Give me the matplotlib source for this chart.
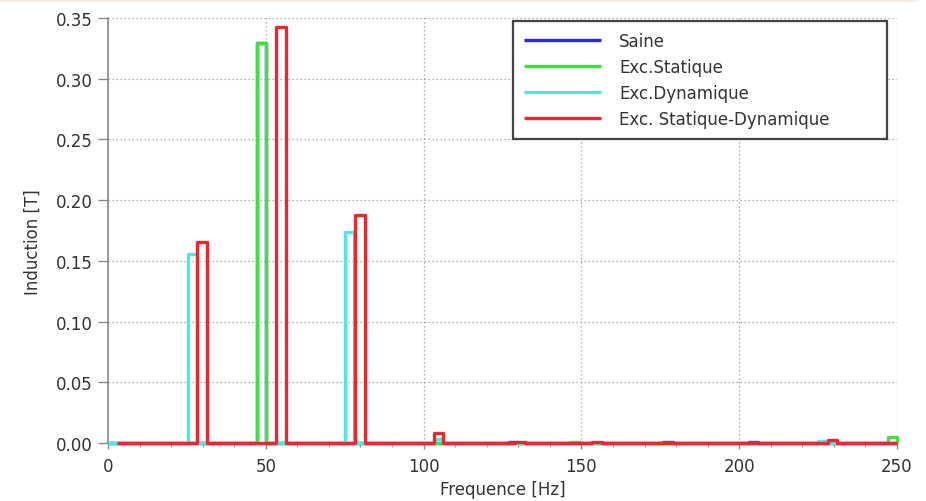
import matplotlib
matplotlib.use("Agg")
import matplotlib.pyplot as plt
from matplotlib.lines import Line2D
import numpy as np

plt.rcParams['font.family'] = ['DejaVu Sans']

# ---- data (frequency in Hz of each spectral line, amplitude in T) ----
series_names = ["Saine", "Exc.Statique", "Exc.Dynamique", "Exc. Statique-Dynamique"]

saine_freq = [48.7, 128.5, 177.5, 204.5]
saine_amp = [0.3295, 0.0010, 0.0007, 0.0007]

stat_freq = [48.7, 148.0, 248.5]
stat_amp = [0.3295, 0.0010, 0.0047]

dyn_freq = [1.5, 26.7, 76.6, 104.7, 226.5]
dyn_amp = [0.0004, 0.1555, 0.1740, 0.0030, 0.0020]

statdyn_freq = [29.75, 54.85, 79.8, 104.7, 130.5, 155.0, 229.5]
statdyn_amp = [0.1653, 0.3424, 0.1878, 0.0080, 0.0012, 0.0012, 0.0025]

fstart = [0.0, 0.0, 0.0, 3.0]
fend = 250.0
bin_width = 3.0

colors = ["#2a2ad8", "#3fe03f", "#4fe6e6", "#e8282c"]

xticks = [0, 50, 100, 150, 200, 250]
yticks = [0.00, 0.05, 0.10, 0.15, 0.20, 0.25, 0.30, 0.35]


def pulse_line(freqs, amps, f0, f1, w):
    xs, ys = [f0], [0.0]
    for f, a in sorted(zip(freqs, amps)):
        left, right = f - w / 2, f + w / 2
        xs += [left, left, right, right]
        ys += [0.0, a, a, 0.0]
    xs.append(f1)
    ys.append(0.0)
    xs = np.clip(xs, f0, f1)
    return xs, ys


fig = plt.figure(figsize=(9.26, 5.02), dpi=100)
ax = fig.add_axes([108 / 926, 1 - 444 / 502, (897 - 108) / 926, (444 - 19) / 502])

all_data = [(saine_freq, saine_amp), (stat_freq, stat_amp),
            (dyn_freq, dyn_amp), (statdyn_freq, statdyn_amp)]
for (fr, am), name, c, f0 in zip(all_data, series_names, colors, fstart):
    xs, ys = pulse_line(fr, am, f0, fend, bin_width)
    ax.plot(xs, ys, color=c, lw=2.4, label=name, solid_joinstyle='round',
            solid_capstyle='butt', clip_on=False, zorder=3)

ax.set_xlim(0, 250)
ax.set_ylim(0, 0.35)
ax.set_xticks(xticks)
ax.set_yticks(yticks)
ax.set_yticklabels([f"{v:.2f}" for v in yticks])
ax.set_xticks(np.arange(0, 251, 10), minor=True)

ax.grid(True, which='major', color='#a8a8a8', linestyle=(0, (1.2, 2.0)), lw=0.9)
ax.set_axisbelow(True)

for s in ['top', 'right']:
    ax.spines[s].set_visible(False)
for s in ['left', 'bottom']:
    ax.spines[s].set_color('#8a8a8a')
    ax.spines[s].set_linewidth(1.2)

ax.tick_params(axis='y', which='major', direction='out', length=7, width=1,
               color='#8a8a8a', labelsize=12, labelcolor='#333333', pad=4)
ax.tick_params(axis='x', which='major', direction='out', length=4, width=1,
               color='#8a8a8a', labelsize=12, labelcolor='#333333', pad=6)
ax.tick_params(axis='x', which='minor', direction='out', length=3, width=0.8,
               color='#9a9a9a')

ax.set_xlabel("Frequence [Hz]", fontsize=12, color='#333333', labelpad=4)
ax.set_ylabel("Induction [T]", fontsize=12, color='#333333', labelpad=10, y=0.475)

leg = ax.legend(loc='upper left',
                bbox_to_anchor=((513 - 108) / 789, 1 - 3 / 425, 374 / 789, 0.0),
                mode='expand', borderaxespad=0, fontsize=12, handlelength=4.6,
                handletextpad=1.1, labelspacing=0.48, borderpad=0.66,
                fancybox=False, framealpha=1, edgecolor='#444444')
leg.get_frame().set_linewidth(1.6)
for t in leg.get_texts():
    t.set_color('#333333')
leg.set_zorder(5)

# faint beige strip at the very top of the picture
fig.add_artist(Line2D([0, 915 / 926], [1 - 1.2 / 502, 1 - 1.2 / 502],
                      transform=fig.transFigure, color='#f4eedc', lw=2))

fig.savefig("out.png", dpi=100)
